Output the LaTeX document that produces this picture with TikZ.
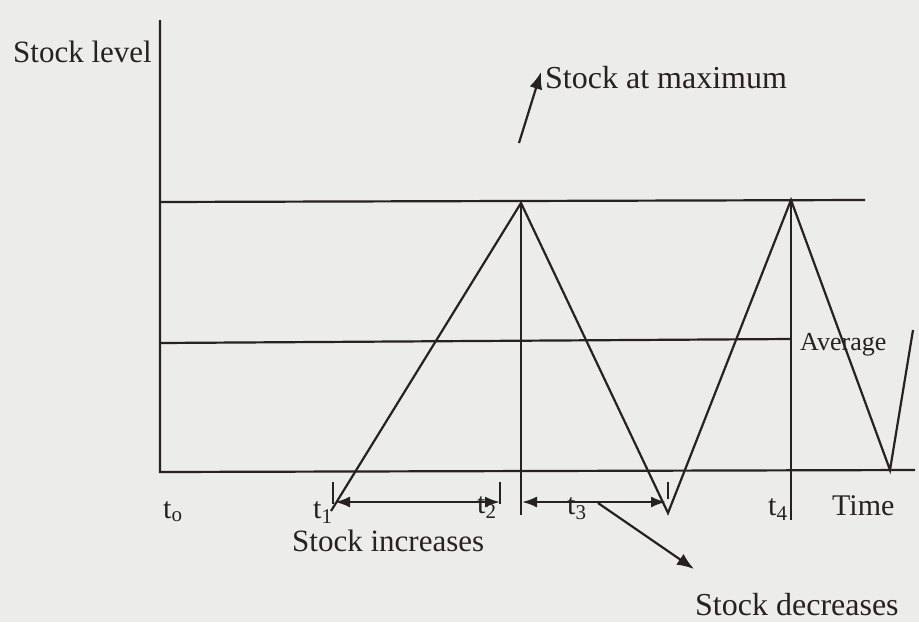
\documentclass[tikz,border=0pt]{standalone}
\usepackage{fontspec}
\setmainfont{Liberation Serif}
\usetikzlibrary{arrows.meta}
\definecolor{paper}{RGB}{236,236,234}
\definecolor{ink}{RGB}{38,34,34}
\tikzset{
  ln/.style={draw=ink, line width=2.2pt},
  lbl/.style={inner sep=0pt, anchor=base west, text=ink, font=\fontsize{31}{31}\selectfont},
  tlbl/.style={inner sep=0pt, anchor=base west, text=ink, font=\fontsize{30}{30}\selectfont},
  hd/.style={-{Latex[length=17pt,width=13pt]}},
  dhd/.style={{Latex[length=15pt,width=11pt]}-{Latex[length=15pt,width=11pt]}}
}
\begin{document}
\begin{tikzpicture}[x=1pt,y=-1pt]
\fill[paper] (0,0) rectangle (919,622);
\useasboundingbox (0,0) rectangle (919,622);
% key points
\coordinate (O) at (160,472);
\coordinate (Ytop) at (160,20);
\coordinate (Xend) at (915,470);
\coordinate (Ms) at (160,202);
\coordinate (Me) at (865,200);
\coordinate (As) at (160,343);
\coordinate (Ae) at (791,339);
\coordinate (B0) at (331,511);
\coordinate (P1) at (521,203);
\coordinate (P1b) at (521,515);
\coordinate (V1) at (668,513);
\coordinate (P2) at (791,200);
\coordinate (P2b) at (791,520);
\coordinate (B2) at (890,470);
\coordinate (E2) at (913,330);
\coordinate (k1a) at (333,482); \coordinate (k1b) at (333,504);
\coordinate (k2a) at (500,482); \coordinate (k2b) at (500,504);
\coordinate (k3a) at (668,482); \coordinate (k3b) at (668,499);
\coordinate (a1l) at (335,502); \coordinate (a1r) at (500,502);
\coordinate (a2l) at (522,502); \coordinate (a2r) at (666,502);
\coordinate (sdA) at (598,503); \coordinate (sdB) at (694,569);
\coordinate (smA) at (519,143); \coordinate (smB) at (541,72);
% axes and reference lines
\draw[ln] (Ytop) -- (O) -- (Xend);
\draw[ln] (Ms) -- (Me);
\draw[ln] (As) -- (Ae);
\draw[ln] (P1) -- (P1b);
\draw[ln] (P2) -- (P2b);
% saw-tooth
\draw[ln, line join=miter] (B0) -- (P1) -- (V1) -- (P2) -- (B2) -- (E2);
% ticks
\draw[ln] (k1a) -- (k1b);
\draw[ln] (k2a) -- (k2b);
\draw[ln] (k3a) -- (k3b);
% interval arrows
\draw[ln, dhd] (a1l) -- (a1r);
\draw[ln, dhd] (a2l) -- (a2r);
\draw[ln, hd] (sdA) -- (sdB);
\draw[ln, hd] (smA) -- (smB);
% labels
\node[lbl] (sl) at (13,62) {Stock level};
\node[lbl, font=\fontsize{32}{32}\selectfont] (smx) at (545,88) {Stock at maximum};
\node[lbl, font=\fontsize{26}{26}\selectfont] (avg) at (800,350) {Average};
\node[lbl, font=\fontsize{30}{30}\selectfont] (tm) at (832,515) {Time};
\node[lbl] (si) at (292,551) {Stock increases};
\node[lbl, font=\fontsize{32}{32}\selectfont] (sd) at (695,615) {Stock decreases};
\node[tlbl] (t0) at (163,518) {t\textsubscript{o}};
\node[tlbl] (t1) at (313,518) {t\textsubscript{1}};
\node[tlbl] (t2) at (477,513) {t\textsubscript{2}};
\node[tlbl] (t3) at (567,514) {t\textsubscript{3}};
\node[tlbl] (t4) at (768,515) {t\textsubscript{4}};
\end{tikzpicture}
\end{document}
